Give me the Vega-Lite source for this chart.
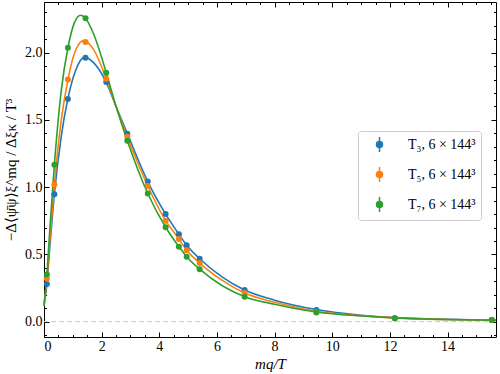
{
  "$schema": "https://vega.github.io/schema/vega-lite/v6.json",
  "width": 452,
  "height": 335,
  "autosize": {"type": "none"},
  "padding": {"left": 44, "top": 2, "right": 4, "bottom": 37},
  "background": "white",
  "config": {
    "view": {"stroke": null},
    "font": "Liberation Serif",
    "axis": {
      "domainColor": "black",
      "domainWidth": 1,
      "tickColor": "black",
      "tickWidth": 1,
      "grid": false,
      "labelFont": "Liberation Serif",
      "labelFontSize": 14,
      "labelColor": "black",
      "titleFont": "Liberation Serif",
      "titleFontSize": 15,
      "titleFontWeight": "normal",
      "titleColor": "black"
    },
    "legend": {
      "orient": "none",
      "legendX": 314,
      "legendY": 129,
      "strokeColor": "#cccccc",
      "fillColor": "white",
      "cornerRadius": 3,
      "padding": 5,
      "symbolOffset": 8,
      "symbolSize": 225,
      "symbolStrokeWidth": 1.5,
      "symbolType": "M0,-1L0,1M-0.4,0A0.4,0.4,0,1,1,0.4,0A0.4,0.4,0,1,1,-0.4,0Z",
      "labelFont": "Liberation Serif",
      "labelFontSize": 14,
      "labelColor": "black",
      "labelOffset": 20,
      "rowPadding": 9,
      "title": null
    }
  },
  "datasets": {
    "pts": [
      {"x": 0.10, "y": 0.28, "s": "T₃, 6 × 144³"},
      {"x": 0.36, "y": 0.947, "s": "T₃, 6 × 144³"},
      {"x": 0.83, "y": 1.656, "s": "T₃, 6 × 144³"},
      {"x": 1.44, "y": 1.963, "s": "T₃, 6 × 144³"},
      {"x": 2.16, "y": 1.782, "s": "T₃, 6 × 144³"},
      {"x": 2.89, "y": 1.398, "s": "T₃, 6 × 144³"},
      {"x": 3.60, "y": 1.042, "s": "T₃, 6 × 144³"},
      {"x": 4.22, "y": 0.80, "s": "T₃, 6 × 144³"},
      {"x": 4.68, "y": 0.65, "s": "T₃, 6 × 144³"},
      {"x": 4.95, "y": 0.568, "s": "T₃, 6 × 144³"},
      {"x": 5.40, "y": 0.468, "s": "T₃, 6 × 144³"},
      {"x": 6.96, "y": 0.236, "s": "T₃, 6 × 144³"},
      {"x": 9.45, "y": 0.087, "s": "T₃, 6 × 144³"},
      {"x": 12.17, "y": 0.026, "s": "T₃, 6 × 144³"},
      {"x": 15.53, "y": 0.012, "s": "T₃, 6 × 144³"},
      {"x": 0.10, "y": 0.32, "s": "T₅, 6 × 144³"},
      {"x": 0.36, "y": 1.02, "s": "T₅, 6 × 144³"},
      {"x": 0.83, "y": 1.80, "s": "T₅, 6 × 144³"},
      {"x": 1.44, "y": 2.08, "s": "T₅, 6 × 144³"},
      {"x": 2.16, "y": 1.807, "s": "T₅, 6 × 144³"},
      {"x": 2.89, "y": 1.375, "s": "T₅, 6 × 144³"},
      {"x": 3.60, "y": 1.009, "s": "T₅, 6 × 144³"},
      {"x": 4.22, "y": 0.751, "s": "T₅, 6 × 144³"},
      {"x": 4.68, "y": 0.615, "s": "T₅, 6 × 144³"},
      {"x": 4.95, "y": 0.531, "s": "T₅, 6 × 144³"},
      {"x": 5.40, "y": 0.436, "s": "T₅, 6 × 144³"},
      {"x": 6.96, "y": 0.213, "s": "T₅, 6 × 144³"},
      {"x": 9.45, "y": 0.072, "s": "T₅, 6 × 144³"},
      {"x": 12.17, "y": 0.025, "s": "T₅, 6 × 144³"},
      {"x": 15.53, "y": 0.012, "s": "T₅, 6 × 144³"},
      {"x": 0.10, "y": 0.35, "s": "T₇, 6 × 144³"},
      {"x": 0.36, "y": 1.167, "s": "T₇, 6 × 144³"},
      {"x": 0.83, "y": 2.037, "s": "T₇, 6 × 144³"},
      {"x": 1.44, "y": 2.256, "s": "T₇, 6 × 144³"},
      {"x": 2.16, "y": 1.851, "s": "T₇, 6 × 144³"},
      {"x": 2.89, "y": 1.346, "s": "T₇, 6 × 144³"},
      {"x": 3.60, "y": 0.953, "s": "T₇, 6 × 144³"},
      {"x": 4.22, "y": 0.702, "s": "T₇, 6 × 144³"},
      {"x": 4.68, "y": 0.558, "s": "T₇, 6 × 144³"},
      {"x": 4.95, "y": 0.483, "s": "T₇, 6 × 144³"},
      {"x": 5.40, "y": 0.39, "s": "T₇, 6 × 144³"},
      {"x": 6.96, "y": 0.186, "s": "T₇, 6 × 144³"},
      {"x": 9.45, "y": 0.068, "s": "T₇, 6 × 144³"},
      {"x": 12.17, "y": 0.025, "s": "T₇, 6 × 144³"},
      {"x": 15.53, "y": 0.012, "s": "T₇, 6 × 144³"}
    ],
    "fit": [
      {"x": 0, "y": 0.12, "s": "T₃, 6 × 144³"},
      {"x": 0.1, "y": 0.28, "s": "T₃, 6 × 144³"},
      {"x": 0.2, "y": 0.55, "s": "T₃, 6 × 144³"},
      {"x": 0.36, "y": 0.95, "s": "T₃, 6 × 144³"},
      {"x": 0.6, "y": 1.38, "s": "T₃, 6 × 144³"},
      {"x": 0.83, "y": 1.66, "s": "T₃, 6 × 144³"},
      {"x": 1.1, "y": 1.87, "s": "T₃, 6 × 144³"},
      {"x": 1.4, "y": 1.965, "s": "T₃, 6 × 144³"},
      {"x": 1.7, "y": 1.93, "s": "T₃, 6 × 144³"},
      {"x": 2.16, "y": 1.78, "s": "T₃, 6 × 144³"},
      {"x": 2.5, "y": 1.6, "s": "T₃, 6 × 144³"},
      {"x": 2.89, "y": 1.398, "s": "T₃, 6 × 144³"},
      {"x": 3.6, "y": 1.042, "s": "T₃, 6 × 144³"},
      {"x": 4.22, "y": 0.80, "s": "T₃, 6 × 144³"},
      {"x": 4.68, "y": 0.65, "s": "T₃, 6 × 144³"},
      {"x": 4.95, "y": 0.568, "s": "T₃, 6 × 144³"},
      {"x": 5.4, "y": 0.468, "s": "T₃, 6 × 144³"},
      {"x": 6.2, "y": 0.33, "s": "T₃, 6 × 144³"},
      {"x": 6.96, "y": 0.236, "s": "T₃, 6 × 144³"},
      {"x": 8, "y": 0.16, "s": "T₃, 6 × 144³"},
      {"x": 9.45, "y": 0.09, "s": "T₃, 6 × 144³"},
      {"x": 11, "y": 0.048, "s": "T₃, 6 × 144³"},
      {"x": 12.17, "y": 0.03, "s": "T₃, 6 × 144³"},
      {"x": 14, "y": 0.017, "s": "T₃, 6 × 144³"},
      {"x": 15.68, "y": 0.011, "s": "T₃, 6 × 144³"},
      {"x": 0, "y": 0.12, "s": "T₅, 6 × 144³"},
      {"x": 0.1, "y": 0.32, "s": "T₅, 6 × 144³"},
      {"x": 0.2, "y": 0.6, "s": "T₅, 6 × 144³"},
      {"x": 0.36, "y": 1.02, "s": "T₅, 6 × 144³"},
      {"x": 0.6, "y": 1.5, "s": "T₅, 6 × 144³"},
      {"x": 0.83, "y": 1.80, "s": "T₅, 6 × 144³"},
      {"x": 1.1, "y": 2.02, "s": "T₅, 6 × 144³"},
      {"x": 1.38, "y": 2.09, "s": "T₅, 6 × 144³"},
      {"x": 1.7, "y": 2.03, "s": "T₅, 6 × 144³"},
      {"x": 2.16, "y": 1.807, "s": "T₅, 6 × 144³"},
      {"x": 2.5, "y": 1.6, "s": "T₅, 6 × 144³"},
      {"x": 2.89, "y": 1.375, "s": "T₅, 6 × 144³"},
      {"x": 3.6, "y": 1.009, "s": "T₅, 6 × 144³"},
      {"x": 4.22, "y": 0.751, "s": "T₅, 6 × 144³"},
      {"x": 4.68, "y": 0.615, "s": "T₅, 6 × 144³"},
      {"x": 4.95, "y": 0.531, "s": "T₅, 6 × 144³"},
      {"x": 5.4, "y": 0.436, "s": "T₅, 6 × 144³"},
      {"x": 6.2, "y": 0.305, "s": "T₅, 6 × 144³"},
      {"x": 6.96, "y": 0.213, "s": "T₅, 6 × 144³"},
      {"x": 8, "y": 0.145, "s": "T₅, 6 × 144³"},
      {"x": 9.45, "y": 0.078, "s": "T₅, 6 × 144³"},
      {"x": 11, "y": 0.045, "s": "T₅, 6 × 144³"},
      {"x": 12.17, "y": 0.028, "s": "T₅, 6 × 144³"},
      {"x": 14, "y": 0.016, "s": "T₅, 6 × 144³"},
      {"x": 15.68, "y": 0.011, "s": "T₅, 6 × 144³"},
      {"x": 0, "y": 0.12, "s": "T₇, 6 × 144³"},
      {"x": 0.1, "y": 0.35, "s": "T₇, 6 × 144³"},
      {"x": 0.2, "y": 0.68, "s": "T₇, 6 × 144³"},
      {"x": 0.36, "y": 1.167, "s": "T₇, 6 × 144³"},
      {"x": 0.6, "y": 1.72, "s": "T₇, 6 × 144³"},
      {"x": 0.83, "y": 2.037, "s": "T₇, 6 × 144³"},
      {"x": 1.05, "y": 2.22, "s": "T₇, 6 × 144³"},
      {"x": 1.27, "y": 2.278, "s": "T₇, 6 × 144³"},
      {"x": 1.44, "y": 2.256, "s": "T₇, 6 × 144³"},
      {"x": 1.7, "y": 2.15, "s": "T₇, 6 × 144³"},
      {"x": 2.16, "y": 1.851, "s": "T₇, 6 × 144³"},
      {"x": 2.5, "y": 1.6, "s": "T₇, 6 × 144³"},
      {"x": 2.89, "y": 1.346, "s": "T₇, 6 × 144³"},
      {"x": 3.6, "y": 0.953, "s": "T₇, 6 × 144³"},
      {"x": 4.22, "y": 0.702, "s": "T₇, 6 × 144³"},
      {"x": 4.68, "y": 0.558, "s": "T₇, 6 × 144³"},
      {"x": 4.95, "y": 0.483, "s": "T₇, 6 × 144³"},
      {"x": 5.4, "y": 0.39, "s": "T₇, 6 × 144³"},
      {"x": 6.2, "y": 0.265, "s": "T₇, 6 × 144³"},
      {"x": 6.96, "y": 0.186, "s": "T₇, 6 × 144³"},
      {"x": 8, "y": 0.13, "s": "T₇, 6 × 144³"},
      {"x": 9.45, "y": 0.072, "s": "T₇, 6 × 144³"},
      {"x": 11, "y": 0.042, "s": "T₇, 6 × 144³"},
      {"x": 12.17, "y": 0.027, "s": "T₇, 6 × 144³"},
      {"x": 14, "y": 0.016, "s": "T₇, 6 × 144³"},
      {"x": 15.68, "y": 0.011, "s": "T₇, 6 × 144³"}
    ],
    "zero": [{"y": 0}]
  },
  "layer": [
    {
      "data": {"name": "zero"},
      "mark": {"type": "rule", "color": "#c8c8c8", "strokeDash": [5, 3], "strokeWidth": 1},
      "encoding": {
        "y": {
          "field": "y", "type": "quantitative",
          "scale": {"domain": [-0.114, 2.377], "nice": false, "zero": false},
          "axis": {
            "orient": "left",
            "values": [-0.1, 0, 0.1, 0.2, 0.3, 0.4, 0.5, 0.6, 0.7, 0.8, 0.9, 1.0, 1.1, 1.2, 1.3, 1.4, 1.5, 1.6, 1.7, 1.8, 1.9, 2.0, 2.1, 2.2, 2.3],
            "labelExpr": "round(datum.value*10) % 5 == 0 ? format(datum.value, '.1f') : ''",
            "tickSize": {"condition": {"test": "round(datum.value*10) % 5 == 0", "value": -5}, "value": -2.5},
            "labelPadding": 7,
            "title": "−Δ⟨ψ̄ψ⟩ξ^mq / Δξκ / T³",
            "titlePadding": 6
          }
        }
      }
    },
    {
      "data": {"name": "fit"},
      "mark": {"type": "line", "strokeWidth": 1.6, "interpolate": "monotone"},
      "encoding": {
        "x": {
          "field": "x", "type": "quantitative",
          "scale": {"domain": [0, 15.68], "nice": false, "zero": false},
          "axis": {
            "orient": "bottom",
            "values": [0, 0.5, 1, 1.5, 2, 2.5, 3, 3.5, 4, 4.5, 5, 5.5, 6, 6.5, 7, 7.5, 8, 8.5, 9, 9.5, 10, 10.5, 11, 11.5, 12, 12.5, 13, 13.5, 14, 14.5, 15, 15.5],
            "labelExpr": "datum.value % 2 == 0 ? format(datum.value, 'd') : ''",
            "tickSize": {"condition": {"test": "datum.value % 2 == 0", "value": -5}, "value": -2.5},
            "labelPadding": 7.5,
            "title": "mq/T",
            "titleFontStyle": "italic",
            "titlePadding": 3
          }
        },
        "y": {
          "field": "y", "type": "quantitative",
          "axis": {
            "orient": "right",
            "values": [-0.1, 0, 0.1, 0.2, 0.3, 0.4, 0.5, 0.6, 0.7, 0.8, 0.9, 1.0, 1.1, 1.2, 1.3, 1.4, 1.5, 1.6, 1.7, 1.8, 1.9, 2.0, 2.1, 2.2, 2.3],
            "labels": false,
            "title": null,
            "tickSize": {"condition": {"test": "round(datum.value*10) % 5 == 0", "value": -5}, "value": -2.5}
          }
        },
        "color": {
          "field": "s", "type": "nominal",
          "scale": {"domain": ["T₃, 6 × 144³", "T₅, 6 × 144³", "T₇, 6 × 144³"], "range": ["#1f77b4", "#ff7f0e", "#2ca02c"]}
        }
      }
    },
    {
      "data": {"name": "pts"},
      "mark": {"type": "circle", "size": 36, "opacity": 1},
      "encoding": {
        "x": {
          "field": "x", "type": "quantitative",
          "axis": {
            "orient": "top",
            "values": [0, 0.5, 1, 1.5, 2, 2.5, 3, 3.5, 4, 4.5, 5, 5.5, 6, 6.5, 7, 7.5, 8, 8.5, 9, 9.5, 10, 10.5, 11, 11.5, 12, 12.5, 13, 13.5, 14, 14.5, 15, 15.5],
            "labels": false,
            "title": null,
            "tickSize": {"condition": {"test": "datum.value % 2 == 0", "value": -5}, "value": -2.5}
          }
        },
        "y": {"field": "y", "type": "quantitative", "axis": null},
        "color": {"field": "s", "type": "nominal"}
      }
    }
  ],
  "resolve": {"axis": {"x": "independent", "y": "independent"}}
}
